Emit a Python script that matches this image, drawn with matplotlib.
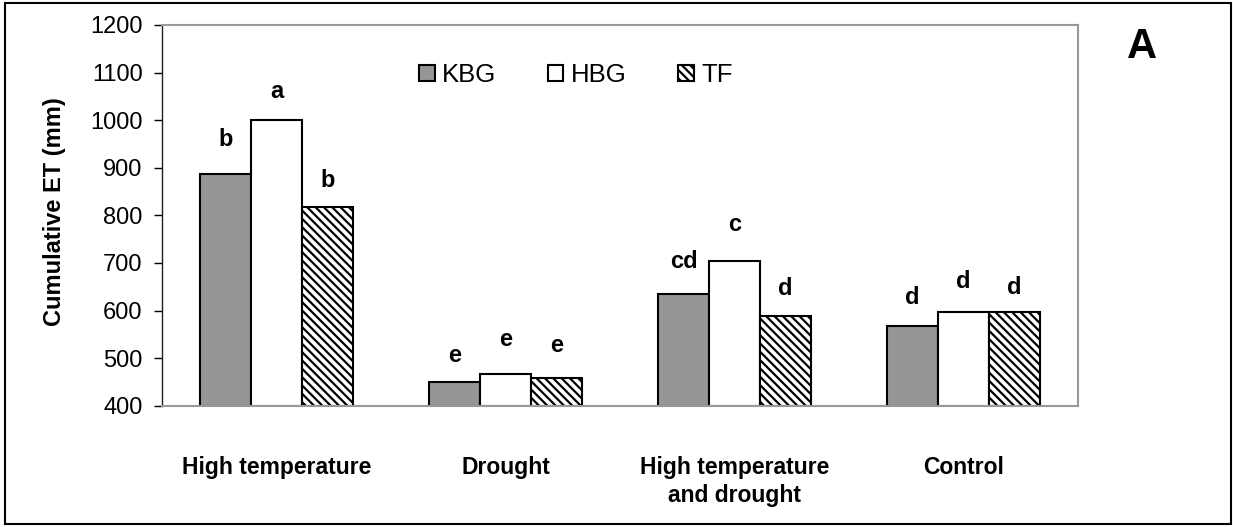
import matplotlib.pyplot as plt
from matplotlib.patches import Rectangle
import numpy as np

# Dados
categorias = ['High temperature', 'Drought', 'High temperature\nand drought', 'Control']
series = ['KBG', 'HBG', 'TF']
kbg = [886, 450, 634, 567]
hbg = [1000, 467, 705, 596]
tf = [818, 459, 589, 596]
letras_kbg = ['b', 'e', 'cd', 'd']
letras_hbg = ['a', 'e', 'c', 'd']
letras_tf = ['b', 'e', 'd', 'd']

# distância (mm) entre o topo da barra e a linha de base da letra
desloc = [[60, 42, 55, 47],
          [46, 58, 63, 51],
          [42, 54, 44, 39]]

plt.rcParams['font.family'] = ['Liberation Sans', 'DejaVu Sans']
plt.rcParams['hatch.linewidth'] = 1.6

fig = plt.figure(figsize=(12.33, 5.27), dpi=100)
ax = fig.add_axes([0.1314, 0.2302, 0.7429, 0.7224])

x = np.arange(len(categorias))
largura = 0.222
estilos = [dict(color='#969696'), dict(color='white'), dict(color='white', hatch='\\\\\\\\')]
valores = [kbg, hbg, tf]
letras = [letras_kbg, letras_hbg, letras_tf]

for i, (nome, vals) in enumerate(zip(series, valores)):
    pos = x + (i - 1) * largura
    ax.bar(pos, np.array(vals) - 400, largura, bottom=400, label=nome,
           edgecolor='black', linewidth=1.5, **estilos[i])
    for j, v in enumerate(vals):
        ax.text(pos[j], v + desloc[i][j], letras[i][j], ha='center', va='baseline',
                fontsize=17, fontweight='bold')

ax.set_xlim(-0.5, 3.5)
ax.set_ylim(400, 1200)
ax.set_yticks(np.arange(400, 1201, 100))
ax.tick_params(axis='y', labelsize=17, length=6, width=1, direction='out', pad=8)
ax.set_xticks(x)
ax.set_xticklabels(categorias, fontsize=16.5, fontweight='bold')
ax.tick_params(axis='x', length=0, pad=36)
for lbl in ax.get_xticklabels():
    lbl.set_linespacing(1.3)

for lado in ['top', 'right', 'bottom']:
    ax.spines[lado].set_color('#999999')
    ax.spines[lado].set_linewidth(1.5)
ax.spines['left'].set_color('#202020')
ax.spines['left'].set_linewidth(1.0)

fig.text(54 / 1233, 1 - 211.5 / 527, 'Cumulative ET (mm)', rotation=90,
         ha='center', va='center', fontsize=17, fontweight='bold')
fig.text(1142 / 1233, 1 - 47 / 527, 'A', ha='center', va='center',
         fontsize=30, fontweight='bold')

ax.legend(loc='center', bbox_to_anchor=(0.452, 0.869), ncol=3, frameon=False,
          fontsize=18.5, handlelength=0.6, handleheight=0.6, handletextpad=0.3,
          columnspacing=2.0, borderpad=0)

fig.patches.append(Rectangle((0.004, 0.0057), 0.9943, 0.9886, transform=fig.transFigure,
                             fill=False, edgecolor='black', linewidth=1.5))

plt.savefig('out.png', dpi=100)
